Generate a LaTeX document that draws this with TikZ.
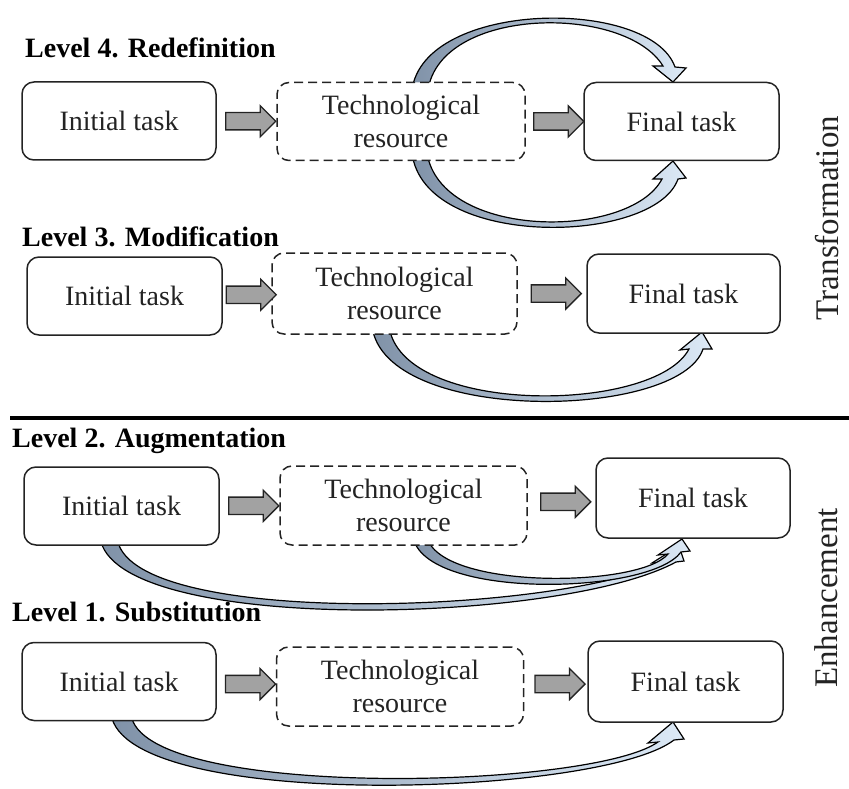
\documentclass[tikz,border=0pt]{standalone}
\usepackage{fontspec}
\setmainfont{Liberation Serif}
\usetikzlibrary{shapes.arrows,backgrounds,calc}

\definecolor{inkc}{RGB}{35,35,35}
\definecolor{arrowgray}{RGB}{162,162,162}
\definecolor{benddark}{RGB}{128,146,168}
\definecolor{bendlight}{RGB}{220,233,246}

\tikzset{
  taskbox/.style={draw=inkc, line width=1.5pt, rounded corners=12pt, fill=white,
    minimum width=194pt, minimum height=78pt, align=center, inner sep=0pt,
    font=\fontsize{28}{33}\selectfont, text=inkc},
  resbox/.style={taskbox, dash pattern=on 9pt off 5pt},
  flow/.style={shape=single arrow, draw=inkc, fill=arrowgray, line width=1.3pt,
    inner xsep=0pt, inner ysep=8pt, minimum height=50pt,
    single arrow head extend=7pt, single arrow tip angle=90},
  fatbend/.style={draw=black, line width=1.2pt, left color=benddark, right color=bendlight},
  leveltitle/.style={anchor=base west, inner sep=0pt, text=black,
    font=\bfseries\fontsize{28}{33}\selectfont},
  sidelabel/.style={rotate=90, inner sep=0pt, text=inkc,
    font=\fontsize{33}{37}\selectfont}
}

\begin{document}
\begin{tikzpicture}[x=1pt,y=-1pt]
\useasboundingbox (0,0) rectangle (849,789);

% ---- Level 4 ----
\node[leveltitle] (t4) at (25,58) {Level 4. Redefinition};
\node[taskbox] (init4) at (119,121) {Initial task};
\node[resbox, minimum width=248pt] (tech4) at (401,121.5) {Technological\\resource};
\node[taskbox, minimum width=195pt] (fin4) at (681.5,121.5) {Final task};
\node[flow] (f4a) at ($(init4.east)!0.5!(tech4.west)$) {};
\node[flow] (f4b) at ($(tech4.east)!0.5!(fin4.west)$) {};

% ---- Level 3 ----
\node[leveltitle] (t3) at (22,246) {Level 3. Modification};
\node[taskbox, minimum width=195pt] (init3) at (124.5,296) {Initial task};
\node[resbox, minimum width=245pt, minimum height=81pt] (tech3) at (394.5,293.5) {Technological\\resource};
\node[taskbox, minimum width=193pt, minimum height=79pt] (fin3) at (683.5,293.5) {Final task};
\node[flow] (f3a) at ($(init3.east)!0.5!(tech3.west)$) {};
\node[flow] (f3b) at ($(tech3.east)!0.5!(fin3.west)$) {};

% divider between transformation and enhancement
\draw[line width=4pt, black] (10,418) -- (849,418);

% ---- Level 2 ----
\node[leveltitle] (t2) at (12,447) {Level 2. Augmentation};
\node[taskbox, minimum width=195pt] (init2) at (121.5,506) {Initial task};
\node[resbox, minimum width=247pt, minimum height=79pt] (tech2) at (403.5,505.5) {Technological\\resource};
\node[taskbox, minimum height=80pt] (fin2) at (693,498) {Final task};
\node[flow] (f2a) at ($(init2.east)!0.5!(tech2.west)$) {};
\node[flow] (f2b) at ($(tech2.east)!0.5!(fin2.west)$) {};

% ---- Level 1 ----
\node[leveltitle] (t1) at (12,621) {Level 1. Substitution};
\node[taskbox] (init1) at (119,681.5) {Initial task};
\node[resbox, minimum width=247pt, minimum height=79pt] (tech1) at (400,686.5) {Technological\\resource};
\node[taskbox, minimum width=195pt, minimum height=81pt] (fin1) at (685.5,681.5) {Final task};
\node[flow] (f1a) at ($(init1.east)!0.5!(tech1.west)$) {};
\node[flow] (f1b) at ($(tech1.east)!0.5!(fin1.west)$) {};

% side labels
\node[sidelabel] (trans) at (827,218) {Transformation};
\node[sidelabel] (enh) at (826,598) {Enhancement};

% curved shaded arrows, behind the boxes
\begin{pgfonlayer}{background}
  % level 4: resource -> final task, over the top
  \path[fatbend] (412,90) .. controls (424,0) and (650,-3) .. (675,67)
    -- (686,68) -- (673,82) -- (653,66) -- (663,66)
    .. controls (625,4) and (441,6) .. (428,90) -- cycle;
  % level 4: resource -> final task, underneath
  \path[fatbend] (412,153) .. controls (424,250) and (655,245) .. (678,179)
    -- (686,178) -- (673,161) -- (653,179) -- (662,179)
    .. controls (630,240) and (441,240) .. (427,153) -- cycle;
  % level 3: resource -> final task
  \path[fatbend] (372,326) .. controls (384,425) and (680,420) .. (703,349)
    -- (712,349) -- (702,332) -- (680,350) -- (689,349)
    .. controls (655,414) and (401,416) .. (389,326) -- cycle;
  % level 2: initial task -> final task
  \path[fatbend] (100,537) .. controls (112,635) and (560,625) .. (676,562)
    -- (684,561) -- (679,546) -- (652,563) -- (662,563)
    .. controls (550,615) and (125,628) .. (117,537) -- cycle;
  % level 2: resource -> final task
  \path[fatbend] (413,537) .. controls (425,600) and (650,595) .. (681,552)
    -- (690,551) -- (682,539) -- (658,555) -- (668,554)
    .. controls (640,588) and (440,590) .. (427,537) -- cycle;
  % level 1: initial task -> final task
  \path[fatbend] (111,714) .. controls (125,812) and (600,797) .. (674,740)
    -- (684,739) -- (673,722) -- (648,743) -- (658,742)
    .. controls (590,790) and (140,800) .. (131,714) -- cycle;
\end{pgfonlayer}
\end{tikzpicture}
\end{document}
